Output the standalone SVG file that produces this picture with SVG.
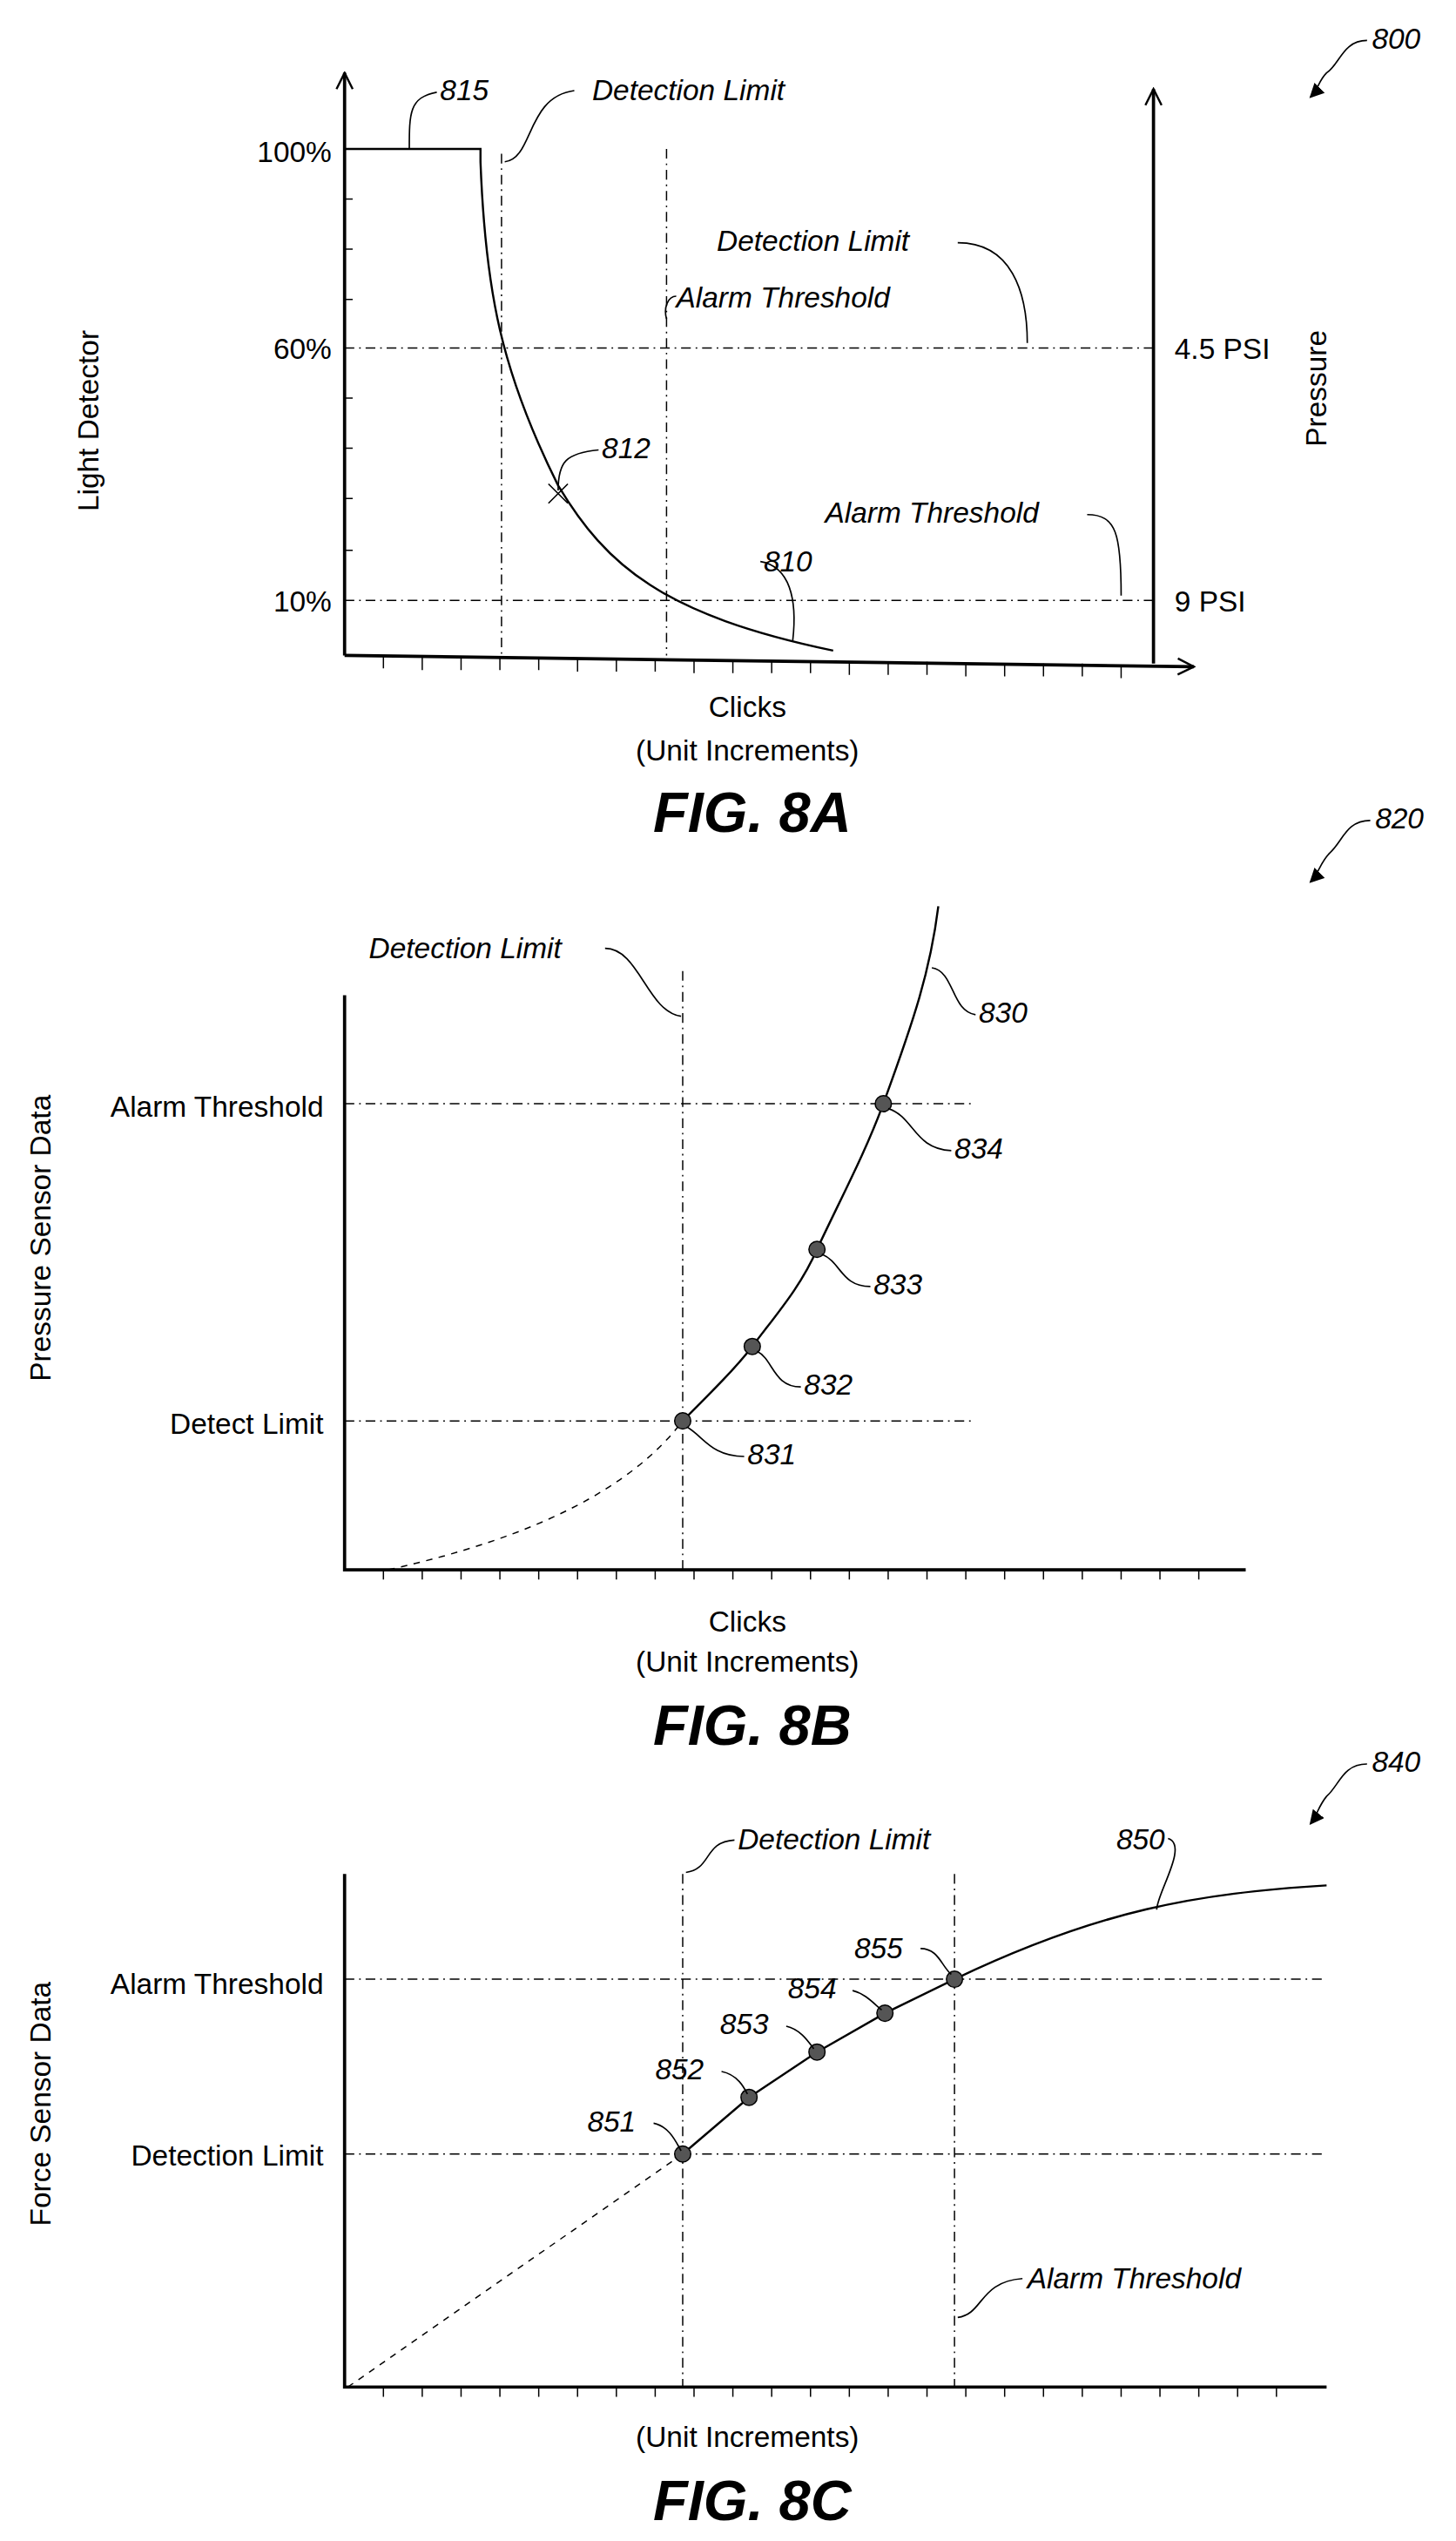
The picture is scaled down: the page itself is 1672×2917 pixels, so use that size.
<svg xmlns="http://www.w3.org/2000/svg" width="1672" height="2917" viewBox="0 0 1672 2917">
<defs>
<style>
text{font-family:"Liberation Sans",Arial,sans-serif;fill:#000;font-size:18px}
.i{font-style:italic}
.fig{font-size:35px;font-weight:bold;font-style:italic}
.ax{stroke:#000;stroke-width:2;fill:none}
.cv{stroke:#000;stroke-width:1.3;fill:none}
.dl{stroke:#000;stroke-width:0.8;stroke-dasharray:6 3 1 3;fill:none}
.dd{stroke:#000;stroke-width:0.8;stroke-dasharray:4 4;fill:none}
.ld{stroke:#000;stroke-width:0.9;fill:none}
.tk{stroke:#000;stroke-width:0.8}
.mk{fill:#555;stroke:#000;stroke-width:0.8}
</style>
<marker id="ah" viewBox="0 0 12 12" refX="11" refY="6" markerWidth="12" markerHeight="12" markerUnits="userSpaceOnUse" orient="auto"><path d="M1,1 L11,6 L1,11" fill="none" stroke="#000" stroke-width="1.3"/></marker>
<marker id="fa" viewBox="0 0 10 10" refX="9" refY="5" markerWidth="9" markerHeight="9" markerUnits="userSpaceOnUse" orient="auto"><path d="M0,0 L10,5 L0,10 z" fill="#000"/></marker>
</defs>
<rect width="1672" height="2917" fill="#fff"/>
<g transform="scale(1.8578)">
<g id="fig8a">
<path class="ax" d="M213,405 L213,45" marker-end="url(#ah)"/>
<path class="ax" d="M213,405 L738,412" marker-end="url(#ah)"/>
<path class="ax" d="M713,410 L713,55" marker-end="url(#ah)"/>
<g class="tk">
<path d="M213,123h5M213,154h5M213,185h5M213,246h5M213,277h5M213,308h5M213,340h5"/>
<path d="M237,405v8M261,406v8M285,406v8M309,406v8M333,406v8M357,407v8M381,407v8M405,407v8M429,408v8M453,408v8M477,408v8M501,408v8M525,409v8M549,409v8M573,409v8M597,410v8M621,410v8M645,410v8M669,410v8M693,411v8"/>
</g>
<path class="dl" d="M310,95V405M412,92V405M213,215H713M213,371H713"/>
<path class="cv" d="M213,92H297V100C300,180 310,230 345,300C375,350 410,380 515,402"/>
<path class="ld" d="M339,299l12,12M339,311l12,-12"/>
<text x="205" y="100" text-anchor="end">100%</text>
<text x="205" y="222" text-anchor="end">60%</text>
<text x="205" y="378" text-anchor="end">10%</text>
<text x="726" y="222">4.5 PSI</text>
<text x="726" y="378">9 PSI</text>
<text transform="translate(61,260) rotate(-90)" text-anchor="middle">Light Detector</text>
<text transform="translate(820,240) rotate(-90)" text-anchor="middle">Pressure</text>
<text class="i" x="272" y="62">815</text>
<path class="ld" d="M253,92C253,70 253,60 270,57"/>
<text class="i" x="366" y="62">Detection Limit</text>
<path class="ld" d="M312,100C330,98 325,60 355,56"/>
<text class="i" x="443" y="155">Detection Limit</text>
<path class="ld" d="M592,150C625,150 635,180 635,212"/>
<text class="i" x="418" y="190">Alarm Threshold</text>
<path class="ld" d="M412,197C410,190 413,183 418,183"/>
<text class="i" x="372" y="283">812</text>
<path class="ld" d="M345,303C345,285 350,280 370,278"/>
<text class="i" x="510" y="323">Alarm Threshold</text>
<path class="ld" d="M672,318C690,318 693,330 693,368"/>
<text class="i" x="472" y="353">810</text>
<path class="ld" d="M490,396C493,370 488,350 470,347"/>
<text x="462" y="443" text-anchor="middle">Clicks</text>
<text x="462" y="470" text-anchor="middle">(Unit Increments)</text>
<text class="fig" x="465" y="514" text-anchor="middle">FIG. 8A</text>
<text class="i" x="848" y="30">800</text>
<path class="ld" d="M845,25C830,25 828,40 820,45C815,50 815,55 810,60" marker-end="url(#fa)"/>
</g>
<g id="fig8b">
<path class="ax" d="M213,615V970H770"/>
<g class="tk"><path d="M237,970v6M261,970v6M285,970v6M309,970v6M333,970v6M357,970v6M381,970v6M405,970v6M429,970v6M453,970v6M477,970v6M501,970v6M525,970v6M549,970v6M573,970v6M597,970v6M621,970v6M645,970v6M669,970v6M693,970v6M717,970v6M741,970v6"/></g>
<path class="dl" d="M422,600V970M213,682H600M213,878H600"/>
<path class="dd" d="M240,970C330,950 390,920 422,878"/>
<path class="cv" d="M422,878C440,860 455,845 465,832C480,812 495,795 505,772C520,740 535,712 546,682C565,630 575,600 580,560"/>
<circle class="mk" cx="422" cy="878" r="5"/><circle class="mk" cx="465" cy="832" r="5"/><circle class="mk" cx="505" cy="772" r="5"/><circle class="mk" cx="546" cy="682" r="5"/>
<text x="200" y="690" text-anchor="end">Alarm Threshold</text>
<text x="200" y="886" text-anchor="end">Detect Limit</text>
<text transform="translate(31,765) rotate(-90)" text-anchor="middle">Pressure Sensor Data</text>
<text class="i" x="228" y="592">Detection Limit</text>
<path class="ld" d="M374,586C395,586 400,625 421,628"/>
<text class="i" x="605" y="632">830</text>
<path class="ld" d="M576,598C590,600 588,625 603,627"/>
<text class="i" x="590" y="716">834</text>
<path class="ld" d="M549,685C565,690 565,710 588,711"/>
<text class="i" x="540" y="800">833</text>
<path class="ld" d="M508,775C520,780 520,795 538,795"/>
<text class="i" x="497" y="862">832</text>
<path class="ld" d="M468,835C478,840 478,857 495,857"/>
<text class="i" x="462" y="905">831</text>
<path class="ld" d="M425,882C435,888 440,900 460,900"/>
<text x="462" y="1008" text-anchor="middle">Clicks</text>
<text x="462" y="1033" text-anchor="middle">(Unit Increments)</text>
<text class="fig" x="465" y="1078" text-anchor="middle">FIG. 8B</text>
<text class="i" x="850" y="512">820</text>
<path class="ld" d="M847,507C832,507 830,520 822,527C816,533 815,540 810,545" marker-end="url(#fa)"/>
</g>
<g id="fig8c">
<path class="ax" d="M213,1158V1475H820"/>
<g class="tk"><path d="M237,1475v6M261,1475v6M285,1475v6M309,1475v6M333,1475v6M357,1475v6M381,1475v6M405,1475v6M429,1475v6M453,1475v6M477,1475v6M501,1475v6M525,1475v6M549,1475v6M573,1475v6M597,1475v6M621,1475v6M645,1475v6M669,1475v6M693,1475v6M717,1475v6M741,1475v6M765,1475v6M789,1475v6"/></g>
<path class="dl" d="M422,1158V1475M590,1158V1475M213,1223H820M213,1331H820"/>
<path class="dd" d="M215,1475L422,1331"/>
<path class="cv" d="M422,1331L463,1296L505,1268L547,1244L590,1223C680,1180 740,1170 820,1165"/>
<circle class="mk" cx="422" cy="1331" r="5"/><circle class="mk" cx="463" cy="1296" r="5"/><circle class="mk" cx="505" cy="1268" r="5"/><circle class="mk" cx="547" cy="1244" r="5"/><circle class="mk" cx="590" cy="1223" r="5"/>
<text x="200" y="1232" text-anchor="end">Alarm Threshold</text>
<text x="200" y="1338" text-anchor="end">Detection Limit</text>
<text transform="translate(31,1300) rotate(-90)" text-anchor="middle">Force Sensor Data</text>
<text class="i" x="456" y="1143">Detection Limit</text>
<path class="ld" d="M424,1157C440,1155 435,1138 454,1137"/>
<text class="i" x="635" y="1414">Alarm Threshold</text>
<path class="ld" d="M592,1432C608,1430 605,1410 632,1408"/>
<text class="i" x="690" y="1143">850</text>
<path class="ld" d="M722,1136C735,1140 715,1170 715,1180"/>
<text class="i" x="528" y="1210">855</text>
<path class="ld" d="M569,1204C580,1204 582,1215 588,1220"/>
<text class="i" x="487" y="1235">854</text>
<path class="ld" d="M527,1230C535,1232 540,1238 545,1242"/>
<text class="i" x="445" y="1257">853</text>
<path class="ld" d="M486,1252C495,1254 500,1262 503,1266"/>
<text class="i" x="405" y="1285">852</text>
<path class="ld" d="M446,1280C456,1282 460,1290 462,1294"/>
<text class="i" x="363" y="1317">851</text>
<path class="ld" d="M404,1312C414,1314 418,1324 421,1329"/>
<text x="462" y="1512" text-anchor="middle">(Unit Increments)</text>
<text class="fig" x="465" y="1557" text-anchor="middle">FIG. 8C</text>
<text class="i" x="848" y="1095">840</text>
<path class="ld" d="M845,1090C830,1090 828,1103 820,1110C815,1116 814,1122 810,1127" marker-end="url(#fa)"/>
</g>
</g>
</svg>
